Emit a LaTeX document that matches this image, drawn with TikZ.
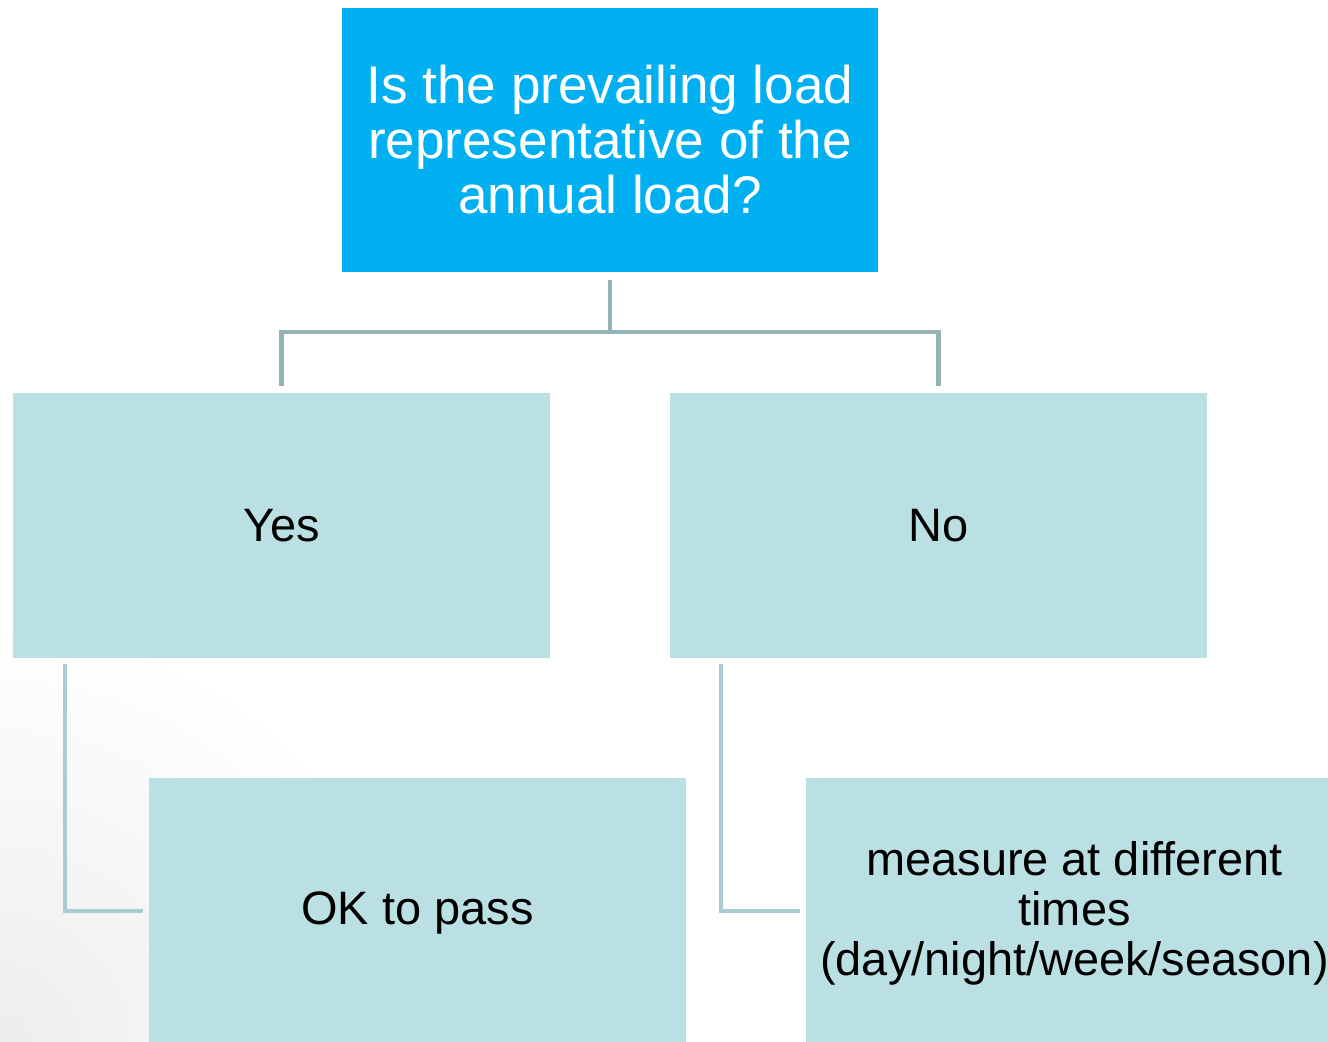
\documentclass[tikz,border=0pt]{standalone}
\usepackage{fontspec}
\setmainfont{Liberation Sans}

\definecolor{askblue}{HTML}{00B0F0}
\definecolor{replyteal}{HTML}{BBE0E3}
\definecolor{trunkgray}{HTML}{93B3B6}
\definecolor{branchgray}{HTML}{A9CDD0}

\begin{document}
\begin{tikzpicture}[
        x=0.02cm, y=-0.02cm,
        askbox/.style={fill=askblue, text=white, inner sep=0pt, align=center,
            minimum width=10.72cm, minimum height=5.28cm,
            font=\fontsize{30.2}{31.3}\selectfont},
        replybox/.style={fill=replyteal, inner sep=0pt, align=center,
            minimum width=10.74cm, minimum height=5.3cm,
            font=\fontsize{26.7}{28.5}\selectfont},
        trunk/.style={draw=trunkgray, line width=0.085cm},
        branch/.style={draw=branchgray, line width=0.085cm},
    ]
    \clip (0, 0) rectangle (1328, 1041);
    \shade[inner color=black!7, outer color=white] (0, 1041) circle (420);

    \node[askbox] (question) at (610, 140) {Is the prevailing load\\representative of the\\annual load?};
    \node[replybox] (yes) at (281.5, 525.5) {Yes};
    \node[replybox] (no) at (938.5, 525.5) {No};
    % lower row runs off the bottom edge
    \node[replybox, minimum height=5.4cm] (pass) at (417.5, 913) {OK to pass};
    \node[replybox, minimum height=5.4cm] (measure) at (1074.5, 913) {measure at different\\times\\(day/night/week/season)};

    \coordinate (fork) at (610, 332);
    \draw[trunk, shorten <=0.16cm] (question.south) -- (fork);
    \draw[trunk, shorten >=0.14cm] (fork) -| (yes.north);
    \draw[trunk, shorten >=0.14cm] (fork) -| (no.north);

    \draw[branch, shorten <=0.12cm, shorten >=0.12cm] ([xshift=1.04cm]yes.south west) |- ([yshift=0.04cm]pass.west);
    \draw[branch, shorten <=0.12cm, shorten >=0.12cm] ([xshift=1.02cm]no.south west) |- ([yshift=0.04cm]measure.west);

\end{tikzpicture}
\end{document}
